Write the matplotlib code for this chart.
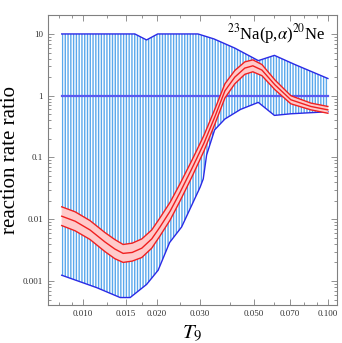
import matplotlib
matplotlib.use("Agg")
import matplotlib.pyplot as plt
import numpy as np

# blue band: upper / lower limits of the ratio
t_up = [0.0082, 0.0163, 0.0182, 0.0202, 0.0295, 0.0343, 0.0417, 0.052, 0.0605, 0.0733, 0.1]
up = [10, 10, 8.0, 10, 10, 8.3, 5.9, 3.7, 4.5, 3.2, 1.9]

t_lo = [0.0082, 0.0114, 0.0142, 0.0156, 0.0182, 0.0203, 0.0226, 0.0253, 0.0301, 0.0310,
        0.032, 0.0345, 0.038, 0.044, 0.052, 0.0605, 0.0706, 0.1]
lo = [0.00124, 0.00078, 0.00054, 0.00054, 0.00088, 0.0015, 0.0042, 0.0075, 0.033, 0.045,
      0.11, 0.28, 0.42, 0.6, 0.78, 0.48, 0.51, 0.55]

# red band: recommended ratio with its uncertainty
t_red = [0.0082, 0.0093, 0.0107, 0.0123, 0.0135, 0.0146, 0.0159, 0.0174, 0.0191, 0.0206,
         0.0227, 0.0249, 0.0279, 0.0312, 0.0346, 0.038, 0.0417, 0.0458, 0.0494, 0.0538,
         0.0608, 0.0706, 0.0852, 0.1]
red_mid = [0.0112, 0.0093, 0.0067, 0.0043, 0.0033, 0.0028, 0.0029, 0.0034, 0.0048, 0.0074,
           0.0135, 0.027, 0.067, 0.17, 0.46, 1.2, 2.0, 2.8, 3.05, 2.6,
           1.5, 0.86, 0.67, 0.59]
red_hi = [0.0159, 0.0132, 0.0095, 0.0061, 0.0047, 0.0039, 0.0041, 0.0048, 0.0067, 0.0104,
          0.0188, 0.0373, 0.091, 0.228, 0.61, 1.56, 2.56, 3.53, 3.81, 3.2,
          1.8, 1.0, 0.76, 0.67]
red_lo = [0.0079, 0.0065, 0.0047, 0.0030, 0.0023, 0.0020, 0.0021, 0.0024, 0.0034, 0.0053,
          0.0097, 0.0196, 0.049, 0.127, 0.35, 0.92, 1.56, 2.22, 2.44, 2.11,
          1.25, 0.74, 0.59, 0.52]

xticks = [0.010, 0.015, 0.020, 0.030, 0.050, 0.070, 0.100]
xlabels = ["0.010", "0.015", "0.020", "0.030", "0.050", "0.070", "0.100"]
xminor = [0.008, 0.009, 0.0125, 0.0175, 0.025, 0.04, 0.06, 0.08, 0.09]
yticks = [0.001, 0.01, 0.1, 1, 10]
ylabels = ["0.001", "0.01", "0.1", "1", "10"]

plt.rcParams["font.family"] = ["Liberation Serif", "DejaVu Serif"]
plt.rcParams["mathtext.fontset"] = "stix"
plt.rcParams["hatch.color"] = "#5aa8ec"
plt.rcParams["hatch.linewidth"] = 1.0

fig = plt.figure(figsize=(3.42, 3.43), dpi=100)
ax = fig.add_axes([0.140, 0.111, 0.845, 0.845])
ax.set_xscale("log")
ax.set_yscale("log")

# hatched region between blue limits
poly_x = list(t_up) + list(t_lo[::-1])
poly_y = list(up) + list(lo[::-1])
ax.fill(poly_x, poly_y, facecolor="none", edgecolor="#5aa8ec", hatch="||||||", linewidth=0, zorder=1)
ax.plot(t_up, up, color="#2a2ae6", lw=1.0, zorder=3)
ax.plot(t_lo, lo, color="#2a2ae6", lw=1.0, zorder=3)
ax.plot([t_red[0], t_red[-1]], [1, 1], color="#5a5af0", lw=1.6, zorder=2)

ax.fill_between(t_red, red_lo, red_hi, facecolor="#ffcaca", edgecolor="none", zorder=4)
ax.plot(t_red, red_hi, color="#f02020", lw=1.0, zorder=5)
ax.plot(t_red, red_mid, color="#f02020", lw=1.0, zorder=5)
ax.plot(t_red, red_lo, color="#f02020", lw=1.0, zorder=5)

ax.set_xlim(0.0072, 0.1088)
ax.set_ylim(0.00041, 20.2)

ax.set_xticks(xticks, labels=xlabels)
ax.set_xticks(xminor, minor=True)
ax.set_xticklabels([], minor=True)
ax.set_yticks(yticks, labels=ylabels)
ax.tick_params(which="both", direction="in", top=True, right=True, colors="#808080",
               labelcolor="#333333", labelsize=6.5, width=0.6)
ax.tick_params(which="major", length=4)
ax.tick_params(which="minor", length=2)
for s in ax.spines.values():
    s.set_color("#808080")
    s.set_linewidth(0.8)

ax.set_ylabel("reaction rate ratio", fontsize=15, labelpad=2)
ax.set_xlabel(r"$T_9$", fontsize=15, labelpad=4)
ax.text(0.96, 0.975, r"$^{23}$Na(p,$\alpha$)$^{20}$Ne", transform=ax.transAxes,
        ha="right", va="top", fontsize=12)

fig.savefig("out.png", dpi=100)
